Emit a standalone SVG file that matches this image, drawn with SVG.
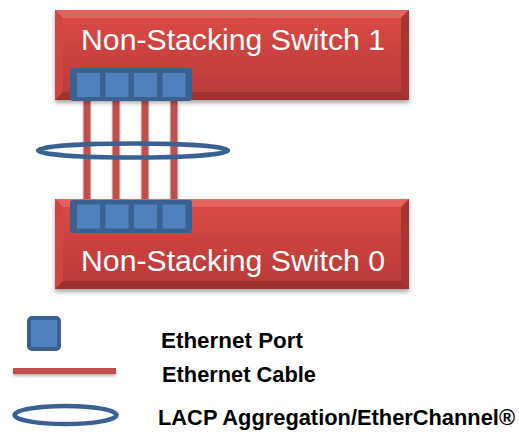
<svg xmlns="http://www.w3.org/2000/svg" width="519" height="432" viewBox="0 0 519 432">
<style>
.sw-text{font-family:"Liberation Sans",Arial,sans-serif;font-size:29px;fill:#FFFFFF}
.lg-text{font-family:"Liberation Sans",Arial,sans-serif;font-size:22px;font-weight:bold;fill:#000000}
.portgrp{fill:#3B6193}
.port{fill:#4F81BD}
.cable{fill:#C0504D}
.lag{fill:none;stroke:#3B6193;stroke-width:4.5}
</style>
<defs>
<linearGradient id="swg" x1="0" y1="0" x2="0" y2="1">
<stop offset="0" stop-color="#DC4A46"/>
<stop offset="1" stop-color="#B73A38"/>
</linearGradient>
<filter id="sh" x="-10%" y="-10%" width="120%" height="130%">
<feGaussianBlur in="SourceAlpha" stdDeviation="2"/>
<feOffset dx="0" dy="3" result="b"/>
<feComponentTransfer><feFuncA type="linear" slope="0.35"/></feComponentTransfer>
<feMerge><feMergeNode/><feMergeNode in="SourceGraphic"/></feMerge>
</filter>
<filter id="shc" x="-20%" y="-50%" width="140%" height="250%">
<feGaussianBlur in="SourceAlpha" stdDeviation="1.5"/>
<feOffset dx="0" dy="2"/>
<feComponentTransfer><feFuncA type="linear" slope="0.3"/></feComponentTransfer>
<feMerge><feMergeNode/><feMergeNode in="SourceGraphic"/></feMerge>
</filter>
<g id="swbody">
<rect x="0" y="0" width="354" height="90" fill="url(#swg)"/>
<polygon points="0,0 354,0 346,8 8,8" fill="#E3635F"/>
<polygon points="0,0 8,8 8,82 0,90" fill="#D04642"/>
<polygon points="354,0 354,90 346,82 346,8" fill="#A83432"/>
<polygon points="0,90 8,82 346,82 354,90" fill="#9E302E"/>
</g>
</defs>

<g id="connectors">
<rect class="cable" x="83.5" y="100" width="7" height="101" filter="url(#shc)"/>
<rect class="cable" x="112.5" y="100" width="7" height="101" filter="url(#shc)"/>
<rect class="cable" x="141.5" y="100" width="7" height="101" filter="url(#shc)"/>
<rect class="cable" x="170.5" y="100" width="7" height="101" filter="url(#shc)"/>
</g>

<g id="switch1">
<use href="#swbody" x="55" y="10" filter="url(#sh)"/>
<text class="sw-text" x="81" y="50" textLength="304" lengthAdjust="spacingAndGlyphs">Non-Stacking Switch 1</text>
<rect class="portgrp" x="70" y="68" width="122" height="33" rx="3"/>
<rect class="port" x="77" y="73" width="23" height="24"/>
<rect class="port" x="105.5" y="73" width="23" height="24"/>
<rect class="port" x="134" y="73" width="23" height="24"/>
<rect class="port" x="162.5" y="73" width="23" height="24"/>
</g>

<g id="switch0">
<use href="#swbody" x="55" y="199" filter="url(#sh)"/>
<text class="sw-text" x="81" y="271" textLength="304" lengthAdjust="spacingAndGlyphs">Non-Stacking Switch 0</text>
<rect class="portgrp" x="70" y="200" width="122" height="33" rx="3"/>
<rect class="port" x="77" y="204.5" width="23" height="24"/>
<rect class="port" x="105.5" y="204.5" width="23" height="24"/>
<rect class="port" x="134" y="204.5" width="23" height="24"/>
<rect class="port" x="162.5" y="204.5" width="23" height="24"/>
</g>

<g id="lag">
<ellipse class="lag" cx="133" cy="150.5" rx="95" ry="7"/>
</g>

<g id="legend">
<rect x="29" y="318" width="30" height="31" rx="3" fill="#4F81BD" stroke="#3B6193" stroke-width="4"/>
<text class="lg-text" x="161" y="348" textLength="142" lengthAdjust="spacingAndGlyphs">Ethernet Port</text>
<rect class="cable" x="13" y="368" width="103" height="6" filter="url(#shc)"/>
<text class="lg-text" x="162" y="382" textLength="154" lengthAdjust="spacingAndGlyphs">Ethernet Cable</text>
<ellipse class="lag" cx="65.5" cy="415" rx="51" ry="9"/>
<text class="lg-text" x="158" y="425" textLength="357" lengthAdjust="spacingAndGlyphs">LACP Aggregation/EtherChannel®</text>
</g>
</svg>
